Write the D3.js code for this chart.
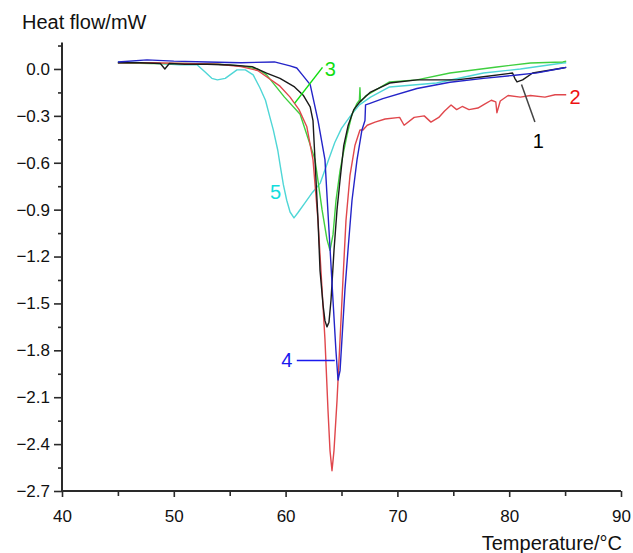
<!DOCTYPE html>
<html><head><meta charset="utf-8">
<script src="https://cdn.jsdelivr.net/npm/d3@7/dist/d3.min.js"></script>
<style>body{margin:0;background:#fff}svg{display:block;font-family:"Liberation Sans",Arial,sans-serif}</style>
</head><body><svg id="c" width="633" height="553"></svg>
<script>
// ---- data ----
const xTicks = [40,50,60,70,80,90];
const xMinor = [45,55,65,75,85];
const yTicks = [0,-0.3,-0.6,-0.9,-1.2,-1.5,-1.8,-2.1,-2.4,-2.7];
const yMinor = [0.15,-0.15,-0.45,-0.75,-1.05,-1.35,-1.65,-1.95,-2.25,-2.55];
const yLabels = ["0.0","\u22120.3","\u22120.6","\u22120.9","\u22121.2","\u22121.5","\u22121.8","\u22122.1","\u22122.4","\u22122.7"];
const xTitle = "Temperature/\u00b0C";
const yTitle = "Heat flow/mW";

// series 1 (black)
const t1 = [45.0,47.0,48.8,49.2,49.6,51,53,55,57,58.3,59.5,60.8,61.6,62.2,62.45,62.63,62.9,63.08,63.35,63.52,63.7,63.88,64.06,64.33,64.6,64.87,65.2,65.6,66.1,66.65,67.55,69.3,71.75,75.3,77.7,80.3,80.5,80.7,81.2,82.1,84.8,85.1];
const v1 = [0.04,0.04,0.035,0.0,0.035,0.03,0.03,0.025,0.015,-0.026,-0.06,-0.115,-0.17,-0.243,-0.33,-0.58,-0.97,-1.29,-1.51,-1.61,-1.65,-1.62,-1.48,-1.16,-0.90,-0.71,-0.49,-0.36,-0.26,-0.21,-0.15,-0.09,-0.07,-0.07,-0.05,-0.026,-0.06,-0.083,-0.07,-0.026,0.006,0.01];
// series 2 (red)
const t2 = [45.0,48,51,54,56,57.5,58.3,59.5,60.4,61.2,61.9,62.45,62.9,63.26,63.52,63.79,63.97,64.15,64.33,64.6,64.87,65.13,65.4,65.76,66.2,66.65,66.92,67.3,68.0,68.9,70.2,70.6,71.5,72.4,73.0,73.7,74.2,74.8,75.3,75.8,76.4,77.2,77.8,78.4,78.8,78.9,79.2,79.9,81.0,81.9,83.2,84.1,85.1];
const v2 = [0.04,0.04,0.035,0.03,0.015,-0.01,-0.05,-0.11,-0.18,-0.26,-0.37,-0.58,-0.97,-1.41,-1.73,-2.18,-2.44,-2.57,-2.44,-2.12,-1.73,-1.35,-0.97,-0.68,-0.49,-0.39,-0.39,-0.36,-0.34,-0.32,-0.31,-0.36,-0.31,-0.30,-0.34,-0.31,-0.27,-0.23,-0.26,-0.24,-0.26,-0.25,-0.225,-0.20,-0.21,-0.28,-0.205,-0.17,-0.18,-0.17,-0.18,-0.165,-0.165];
// series 3 (green)
const t3 = [45.0,48,51,54,56,57.5,58.3,59.9,61.3,62.63,63.26,63.7,63.97,64.24,64.51,64.87,65.13,65.5,65.94,66.39,66.6,66.65,66.7,67.2,69.3,71.75,74.7,78.9,81.9,84.8,85.1];
const v3 = [0.04,0.035,0.035,0.03,0.02,0.0,-0.038,-0.18,-0.29,-0.58,-0.90,-1.09,-1.16,-1.06,-0.84,-0.65,-0.55,-0.42,-0.29,-0.22,-0.20,-0.12,-0.21,-0.17,-0.083,-0.07,-0.026,0.013,0.038,0.045,0.05];
// series 4 (blue)
const t4 = [45.0,47.6,50,53,56,59,60.4,61.0,61.5,62.2,62.9,63.52,63.88,64.24,64.5,64.69,64.87,65.04,65.31,65.58,65.94,66.39,66.83,67.1,67.15,67.55,68.7,71.75,74.7,77.7,80.5,82.5,84.8,85.1];
const v4 = [0.045,0.058,0.05,0.045,0.04,0.045,0.02,0.006,-0.038,-0.10,-0.33,-0.58,-1.03,-1.48,-1.80,-1.99,-1.93,-1.73,-1.41,-1.16,-0.84,-0.58,-0.39,-0.33,-0.23,-0.22,-0.19,-0.125,-0.085,-0.06,-0.04,-0.025,0.006,0.01];
// series 5 (cyan)
const t5 = [45.0,47.9,50.5,52.1,52.8,53.4,53.9,54.6,55.65,56.4,57.1,57.7,58.2,58.6,58.9,59.3,59.5,59.8,60.1,60.4,60.75,61.1,61.7,62.4,63.1,63.7,64.4,65.0,65.8,66.6,67.6,69.3,73.5,77.7,81.0,84.8,85.1];
const v5 = [0.045,0.038,0.026,0.026,-0.02,-0.06,-0.07,-0.06,-0.006,-0.006,-0.038,-0.12,-0.2,-0.31,-0.39,-0.52,-0.61,-0.74,-0.84,-0.915,-0.953,-0.92,-0.86,-0.79,-0.73,-0.61,-0.47,-0.38,-0.30,-0.23,-0.18,-0.115,-0.09,-0.026,0.0,0.038,0.04];

const seriesT = [t1,t2,t3,t4,t5];
const seriesV = [v1,v2,v3,v4,v5];
const seriesColors = ["#1a1a1a","#e0474c","#3fcf3f","#2424c8","#4fd6d6"];
const labelText = ["1","2","3","4","5"];
const labelColors = ["#000000","#ee1111","#11dd11","#1a1aee","#11dddd"];
// label anchor (data coords) and leader line end (data coords)
const labelPos = [[82.6,-0.46],[85.9,-0.18],[64.0,0.0],[60.1,-1.86],[59.1,-0.79]];
const leaderFrom = [[82.3,-0.34],null,[63.3,0.01],[61.0,-1.865],null];
const leaderTo = [[81.1,-0.10],null,[60.8,-0.22],[64.4,-1.865],null];

// ---- drawing ----
const svg = d3.select("#c");
const x = d3.scaleLinear().domain([40,90]).range([62,621]);
const y = d3.scaleLinear().domain([-2.7,0.17]).range([491,42.4]);
const FONT = "Liberation Sans, Arial, sans-serif";

const axisColor = "#2a2a2a";
// y axis
const gy = svg.append("g").attr("transform","translate(62,0)");
gy.call(d3.axisLeft(y).tickValues(yTicks).tickSize(8).tickFormat((d,i)=>yLabels[i]));
gy.append("g").call(d3.axisLeft(y).tickValues(yMinor).tickSize(4).tickFormat(""));
gy.selectAll(".domain").remove();
gy.append("line").attr("x1",0).attr("x2",0).attr("y1",y(0.17)).attr("y2",y(-2.7)).attr("stroke",axisColor).attr("stroke-width",2);
gy.selectAll(".tick line").attr("stroke",axisColor).attr("stroke-width",1.6);
gy.selectAll(".tick text").attr("font-size",17).attr("fill","#111").attr("x",-12).attr("font-family",FONT);

// x axis
const gx = svg.append("g").attr("transform","translate(0,491)");
gx.call(d3.axisBottom(x).tickValues(xTicks).tickSize(6).tickFormat(d3.format("d")));
gx.append("g").call(d3.axisBottom(x).tickValues(xMinor).tickSize(5).tickFormat(""));
gx.selectAll(".domain").remove();
gx.append("line").attr("x1",x(40)).attr("x2",x(90)).attr("y1",0).attr("y2",0).attr("stroke",axisColor).attr("stroke-width",2);
gx.selectAll(".tick line").attr("stroke",axisColor).attr("stroke-width",1.6);
gx.selectAll(".tick text").attr("font-size",17).attr("fill","#111").attr("dy","0.9em").attr("y",16).attr("font-family",FONT);

// titles
svg.append("text").attr("x",22).attr("y",29).attr("font-size",20).attr("fill","#111").text(yTitle);
svg.append("text").attr("x",622).attr("y",550).attr("text-anchor","end").attr("font-size",20).attr("fill","#111").text(xTitle);

// lines
const line = d3.line().x(d=>x(d[0])).y(d=>y(d[1]));
const order = [4,2,1,0,3];
order.forEach(i=>{
  const pts = seriesT[i].map((t,k)=>[t,seriesV[i][k]]);
  svg.append("path").datum(pts).attr("d",line).attr("fill","none")
    .attr("stroke",seriesColors[i]).attr("stroke-width",1.4).attr("stroke-linejoin","round");
});

// leaders + labels
labelText.forEach((s,i)=>{
  if(leaderFrom[i]){
    svg.append("line").attr("x1",x(leaderFrom[i][0])).attr("y1",y(leaderFrom[i][1]))
      .attr("x2",x(leaderTo[i][0])).attr("y2",y(leaderTo[i][1]))
      .attr("stroke", i===0?"#444":labelColors[i]).attr("stroke-width",1.5);
  }
  svg.append("text").attr("x",x(labelPos[i][0])).attr("y",y(labelPos[i][1]))
    .attr("text-anchor","middle").attr("dominant-baseline","central")
    .attr("font-size",20).attr("fill",labelColors[i]).text(s);
});
</script></body></html>
